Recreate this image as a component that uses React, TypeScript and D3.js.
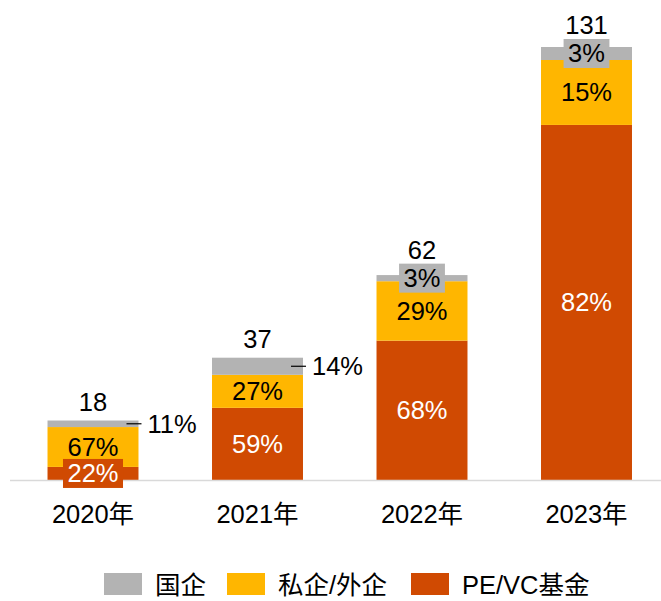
import React from 'react';
import * as d3 from 'd3';

// data
const years = ['2020年', '2021年', '2022年', '2023年'];
const totals = [18, 37, 62, 131];
const pevcShare = [22, 59, 68, 82];
const privateShare = [67, 27, 29, 15];
const soeShare = [11, 14, 3, 3];

const seriesNames = ['国企', '私企/外企', 'PE/VC基金'];
const colors = { soe: '#B3B3B3', priv: '#FFB600', pevc: '#D04A02' };

const W = 661;
const H = 601;
const font = '"Liberation Sans", Arial, "Noto Sans CJK SC", sans-serif';
const fs = 25.5;

// arial-ish advance widths, good enough for the label boxes
const textWidth = (s: string) =>
  s.split('').reduce((w, c) => w + (c === '%' ? 0.889 : 0.556), 0) * fs;

export default function App() {
  const x = d3
    .scaleBand<string>()
    .domain(years)
    .range([10.75, 668.75])
    .paddingInner(0.447)
    .paddingOuter(0.2235);

  const y = d3.scaleLinear().domain([0, 131]).range([480, 47]);
  const bw = x.bandwidth();

  const bars = years.map((yr, i) => {
    const t = totals[i];
    const a = (t * pevcShare[i]) / 100;
    const b = a + (t * privateShare[i]) / 100;
    return {
      yr,
      i,
      total: t,
      x0: x(yr) as number,
      segs: [
        { key: 'pevc', lo: 0, hi: a, pct: pevcShare[i], fill: colors.pevc, color: '#fff' },
        { key: 'priv', lo: a, hi: b, pct: privateShare[i], fill: colors.priv, color: '#000' },
        { key: 'soe', lo: b, hi: t, pct: soeShare[i], fill: colors.soe, color: '#000' },
      ],
    };
  });

  return (
    <div style={{ position: 'absolute', left: 0, top: 0 }}>
      <svg width={W} height={H} style={{ display: 'block' }} fontFamily={font}>
        <rect width={W} height={H} fill="#fff" />

        {/* bars */}
        {bars.map((d) => (
          <g key={d.yr}>
            {d.segs.map((s) => (
              <rect
                key={s.key}
                x={d.x0}
                y={y(s.hi)}
                width={bw}
                height={y(s.lo) - y(s.hi)}
                fill={s.fill}
              />
            ))}
          </g>
        ))}

        {/* baseline */}
        <line x1={10} x2={W} y1={y(0) + 0.5} y2={y(0) + 0.5} stroke="#D9D9D9" strokeWidth={1.5} />

        {/* segment labels */}
        {bars.map((d) => {
          const cx = d.x0 + bw / 2;
          let boxTop = y(d.total);
          const labels = d.segs.map((s) => {
            const cy = (y(s.lo) + y(s.hi)) / 2;
            const h = y(s.lo) - y(s.hi);
            const txt = `${s.pct}%`;
            if (s.key === 'soe' && s.pct > 5) {
              // outside label with a short leader
              const right = d.x0 + bw;
              return (
                <g key={s.key}>
                  <line x1={right - 12} x2={right + 3} y1={cy} y2={cy} stroke="#000" strokeWidth={1.2} />
                  <text x={right + 9} y={cy} dy="0.35em" fontSize={fs} fill="#000">
                    {txt}
                  </text>
                </g>
              );
            }
            if (h < 28) {
              const bwid = textWidth(txt) + 9;
              const bh = 29;
              boxTop = Math.min(boxTop, cy - bh / 2);
              return (
                <g key={s.key}>
                  <rect x={cx - bwid / 2} y={cy - bh / 2} width={bwid} height={bh} fill={s.fill} />
                  <text x={cx} y={cy} dy="0.35em" textAnchor="middle" fontSize={fs} fill={s.color}>
                    {txt}
                  </text>
                </g>
              );
            }
            return (
              <text key={s.key} x={cx} y={cy} dy="0.35em" textAnchor="middle" fontSize={fs} fill={s.color}>
                {txt}
              </text>
            );
          });
          const totalY = boxTop < y(d.total) ? boxTop - 5 : y(d.total) - 10;
          return (
            <g key={d.yr}>
              {labels}
              <text x={cx} y={totalY} textAnchor="middle" fontSize={fs} fill="#000">
                {d.total}
              </text>
            </g>
          );
        })}

        {/* category labels */}
        {years.map((yr) => (
          <text
            key={yr}
            x={(x(yr) as number) + bw / 2}
            y={523}
            textAnchor="middle"
            fontSize={fs}
            fill="#000"
          >
            {yr}
          </text>
        ))}

        {/* legend */}
        {seriesNames.map((name, i) => {
          const lx = [104, 227, 411][i];
          const fill = [colors.soe, colors.priv, colors.pevc][i];
          return (
            <g key={name} transform={`translate(${lx},573)`}>
              <rect width={38} height={22} fill={fill} />
              <text x={51} y={20.5} fontSize={fs} fill="#000">
                {name}
              </text>
            </g>
          );
        })}
      </svg>
    </div>
  );
}
